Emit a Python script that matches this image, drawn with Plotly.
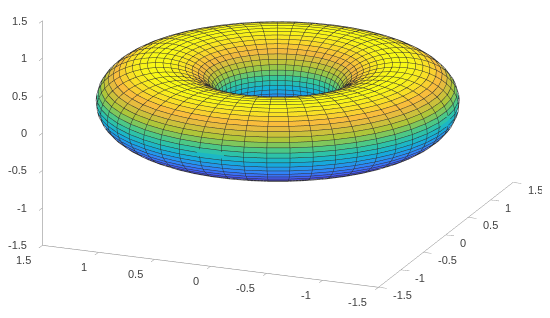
import numpy as np
import plotly.graph_objects as go
from plotly.colors import sample_colorscale

# torus radii and the mesh angles (degrees) of the wireframe
major_radius = 1.0
minor_radius = 0.5
major_angles = [0, 7.35, 14.69, 22.04, 29.39, 36.73, 44.08, 51.43, 58.78, 66.12, 73.47, 80.82, 88.16,
                95.51, 102.86, 110.2, 117.55, 124.9, 132.24, 139.59, 146.94, 154.29, 161.63, 168.98,
                176.33, 183.67, 191.02, 198.37, 205.71, 213.06, 220.41, 227.76, 235.1, 242.45, 249.8,
                257.14, 264.49, 271.84, 279.18, 286.53, 293.88, 301.22, 308.57, 315.92, 323.27, 330.61,
                337.96, 345.31, 352.65, 360]
minor_angles = major_angles
tick_vals = [-1.5, -1, -0.5, 0, 0.5, 1, 1.5]
tick_text = ["-1.5", "-1", "-0.5", "0", "0.5", "1", "1.5"]

parula = [
    [0.0, "#3e26a8"], [0.14, "#4752f4"], [0.29, "#2e87f7"], [0.43, "#12b1d6"],
    [0.57, "#37c897"], [0.71, "#abc739"], [0.86, "#f9b93f"], [1.0, "#f9fb15"],
]


def torus(tube):
    theta, phi = np.meshgrid(np.radians(major_angles), np.radians(minor_angles))
    ring = major_radius + tube * np.cos(phi)
    return ring * np.cos(theta), ring * np.sin(theta), tube * np.sin(phi)


x, y, z = torus(minor_radius)
rows, cols = x.shape

# flat coloured facets, two triangles per mesh cell
index = np.arange(rows * cols).reshape(rows, cols)
corner_a = index[:-1, :-1].ravel()
corner_b = index[1:, :-1].ravel()
corner_c = index[1:, 1:].ravel()
corner_d = index[:-1, 1:].ravel()
cell_z = (z[:-1, :-1] + z[1:, :-1] + z[1:, 1:] + z[:-1, 1:]).ravel() / 4
cell_color = sample_colorscale(parula, list((cell_z + minor_radius) / (2 * minor_radius)))

fig = go.Figure()
fig.add_trace(
    go.Mesh3d(
        x=x.ravel(), y=y.ravel(), z=z.ravel(),
        i=np.concatenate([corner_a, corner_a]),
        j=np.concatenate([corner_b, corner_c]),
        k=np.concatenate([corner_c, corner_d]),
        facecolor=cell_color + cell_color,
        flatshading=True, hoverinfo="skip", showscale=False,
        lighting=dict(ambient=1, diffuse=0, specular=0, roughness=1, fresnel=0),
    )
)

# wireframe on a slightly fatter tube so that it sits on top of the facets
wx, wy, wz = torus(minor_radius * 1.012)
xs, ys, zs = [], [], []
for a, b, c in zip(list(wx) + list(wx.T), list(wy) + list(wy.T), list(wz) + list(wz.T)):
    xs += list(a) + [None]
    ys += list(b) + [None]
    zs += list(c) + [None]
fig.add_trace(
    go.Scatter3d(
        x=xs, y=ys, z=zs, mode="lines",
        line=dict(color="#303030", width=1), hoverinfo="skip", showlegend=False,
    )
)

axis_style = dict(
    range=[-1.5, 1.5], autorange=False,
    tickmode="array", tickvals=tick_vals, showticklabels=False,
    showgrid=False, zeroline=False, showbackground=False, showspikes=False,
    showline=True, linecolor="#808080", linewidth=1,
    ticks="outside", ticklen=9, tickcolor="#808080", tickwidth=1,
    title=dict(text=""),
)

# tick labels sit further off the axes than plotly puts them, so they are scene annotations
label_font = dict(family="Liberation Sans", size=11, color="#404040")
labels = []
for val, txt in zip(tick_vals, tick_text):
    common = dict(text=txt, showarrow=False, font=label_font, yanchor="middle")
    labels.append(dict(x=-1.5, y=1.5, z=val, xanchor="right", xshift=-13.5, **common))
    labels.append(dict(x=-1.5, y=val, z=-1.5, xanchor="right", xshift=-9.5, yshift=-15, **common))
    labels.append(dict(x=val, y=-1.5, z=-1.5, xanchor="left", xshift=12.5, yshift=-8, **common))

shift = -0.433
fig.update_layout(
    width=550, height=318, margin=dict(l=0, r=0, t=0, b=0),
    paper_bgcolor="white", showlegend=False,
    scene=dict(
        xaxis=axis_style, yaxis=axis_style, zaxis=axis_style,
        annotations=labels,
        aspectmode="manual", aspectratio=dict(x=2.277, y=2.277, z=1.487),
        camera=dict(
            projection=dict(type="orthographic"),
            eye=dict(x=-1.764 + 0.012, y=-0.706 - 0.031, z=0.624 + shift),
            up=dict(x=0, y=0, z=1),
            center=dict(x=0.012, y=-0.031, z=shift),
        ),
        domain=dict(x=[0, 1], y=[0, 1]),
    ),
)

fig.write_html("out.html")
